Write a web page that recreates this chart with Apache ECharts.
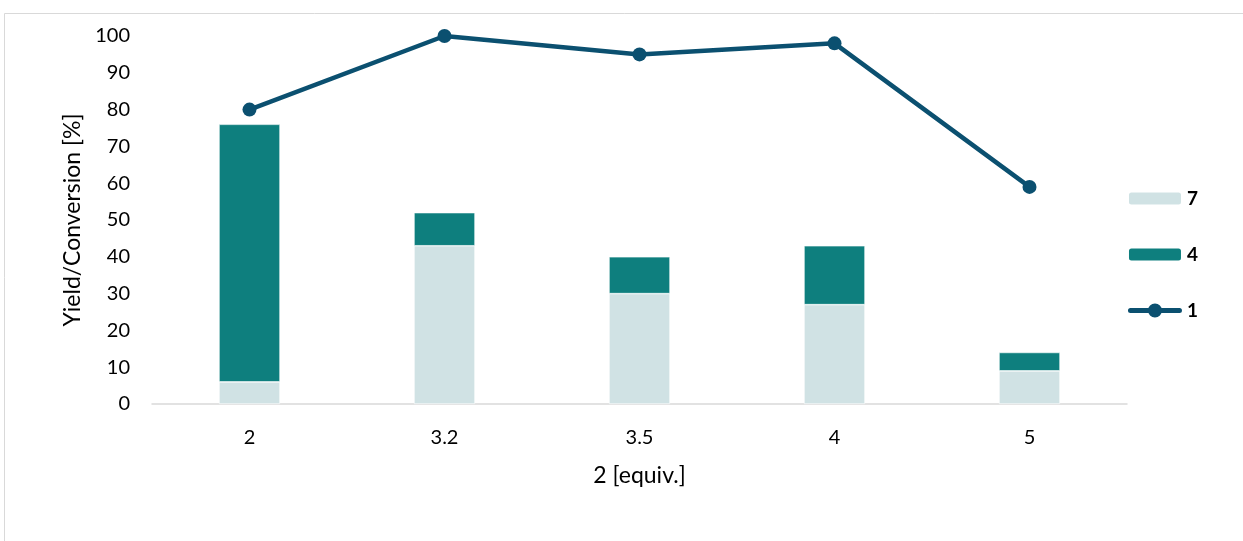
<!DOCTYPE html>
<html>
<head>
<meta charset="utf-8">
<script src="https://cdn.jsdelivr.net/npm/echarts@6/dist/echarts.min.js"></script>
<style>
  html, body { margin: 0; padding: 0; background: #ffffff; }
  #chart { width: 1243px; height: 541px; }
</style>
</head>
<body>
<div id="chart"></div>
<script>
// Equivalents of reagent 2 on the x axis
const categories = ['2', '3.2', '3.5', '4', '5'];
// Yield of 7 (bottom of each stack)
const yield7 = [6, 43, 30, 27, 9];
// Yield of 4 (stacked on top of 7)
const yield4 = [70, 9, 10, 16, 5];
// Conversion of 1 (line)
const conversion1 = [80, 100, 95, 98, 59];
const yTicks = { min: 0, max: 100, interval: 10 };

const font = 'Lato, "Open Sans", sans-serif';
const lineColor = '#0b5070';
// Legend glyph for the line series: round-capped stroke with a large dot in the middle
const lineLegendIcon = 'path://M2.5,4.5 L51.5,4.5 A2.5,2.5 0 0 1 51.5,9.5 L2.5,9.5 A2.5,2.5 0 0 1 2.5,4.5 Z ' +
  'M20,7 A7,7 0 0 1 34,7 A7,7 0 0 1 20,7 Z';

const chart = echarts.init(document.getElementById('chart'), null, { renderer: 'canvas' });

chart.setOption({
  animation: false,
  backgroundColor: '#ffffff',
  textStyle: { fontFamily: font },
  graphic: [{
    type: 'rect',
    shape: { x: 4.5, y: 13.5, width: 1260, height: 560 },
    style: { fill: 'none', stroke: '#d9d9d9', lineWidth: 1 },
    silent: true
  }],
  grid: { left: 152, right: 116, top: 36, bottom: 137, containLabel: false },
  legend: {
    orient: 'vertical',
    right: 40,
    top: 184,
    itemWidth: 54,
    itemHeight: 14,
    itemGap: 37,
    textStyle: { fontFamily: font, fontSize: 19, fontWeight: 'bold', color: '#000000', padding: [0, 0, 0, 0] },
    data: [
      { name: '7' },
      { name: '4' },
      { name: '1', icon: lineLegendIcon }
    ]
  },
  xAxis: {
    type: 'category',
    data: categories,
    name: '2 [equiv.]',
    nameLocation: 'middle',
    nameGap: 60,
    nameTextStyle: { fontFamily: font, fontSize: 23, color: '#000000' },
    axisLine: { lineStyle: { color: '#d9d9d9', width: 1.5 } },
    axisTick: { show: false },
    axisLabel: { fontFamily: font, fontSize: 20, color: '#000000', margin: 24 },
    splitLine: { show: false }
  },
  yAxis: {
    type: 'value',
    min: yTicks.min,
    max: yTicks.max,
    interval: yTicks.interval,
    name: 'Yield/Conversion [%]',
    nameLocation: 'middle',
    nameGap: 68,
    nameTextStyle: { fontFamily: font, fontSize: 23, color: '#000000' },
    axisLine: { show: false },
    axisTick: { show: false },
    axisLabel: { fontFamily: font, fontSize: 20, color: '#000000', margin: 22 },
    splitLine: { show: false }
  },
  series: [
    {
      name: '7',
      type: 'bar',
      stack: 'yield',
      data: yield7,
      barWidth: 61,
      itemStyle: { color: '#d0e2e4', borderColor: '#ffffff', borderWidth: 0.6 }
    },
    {
      name: '4',
      type: 'bar',
      stack: 'yield',
      data: yield4,
      barWidth: 61,
      itemStyle: { color: '#0e7f7e', borderColor: '#ffffff', borderWidth: 0.6 }
    },
    {
      name: '1',
      type: 'line',
      data: conversion1,
      symbol: 'circle',
      symbolSize: 14,
      lineStyle: { color: lineColor, width: 4.5 },
      itemStyle: { color: lineColor },
      z: 5
    }
  ]
});
</script>
</body>
</html>
